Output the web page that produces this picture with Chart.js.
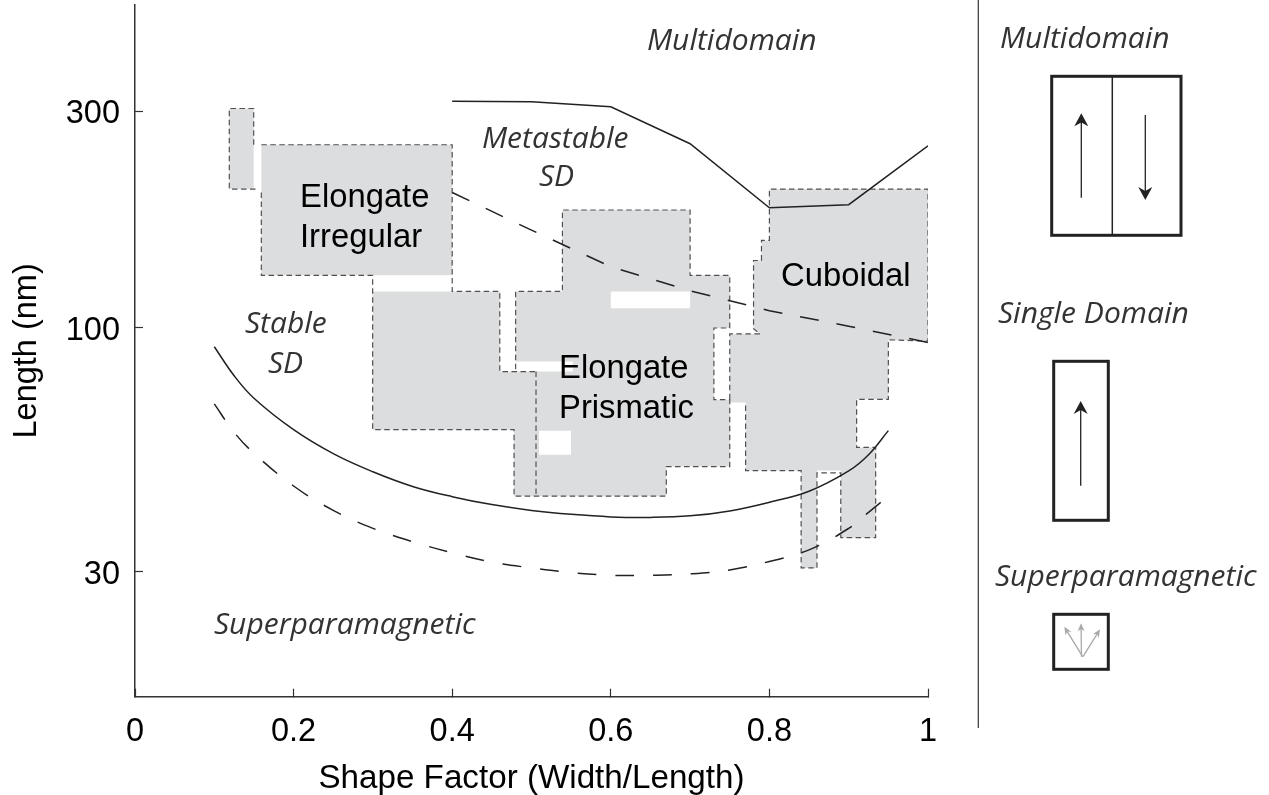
<!DOCTYPE html>
<html><head><meta charset="utf-8">
<style>html,body{margin:0;padding:0;background:#fff}canvas{display:block}</style>
<script src="https://cdn.jsdelivr.net/npm/chart.js@4"></script>
</head><body><canvas id="c" width="1269" height="795"></canvas>
<script>
// Axis ticks. The 100 mark in the reference sits slightly off a true log position.
const xTicks = [0, 0.2, 0.4, 0.6, 0.8, 1];
const yTickValues = [30, 101.8, 300];
const yTickLabels = ['30', '100', '300'];

// Boundary curves (shape factor, length nm)
const boundaryUpperX = [0.4, 0.5, 0.6, 0.7, 0.8, 0.9, 1];
const boundaryUpperY = [315.8, 314.9, 307.1, 255.3, 185.4, 188.2, 252.7];
const metastableX = [0.4, 0.5, 0.6, 0.7, 0.8, 0.9, 1];
const metastableY = [200.1, 165.7, 138.0, 122.4, 110.8, 102.5, 94.5];
const stableX = [0.1, 0.125, 0.15, 0.2, 0.25, 0.3, 0.35, 0.4, 0.45, 0.5, 0.55, 0.6, 0.65, 0.7, 0.75, 0.8, 0.85, 0.9, 0.925, 0.95];
const stableY = [92.5, 80.0, 71.5, 61.1, 54.2, 49.5, 46.0, 43.7, 42.0, 40.8, 40.0, 39.5, 39.4, 39.7, 40.7, 42.5, 44.9, 49.7, 53.9, 60.8];
const superparaX = [0.1, 0.125, 0.15, 0.2, 0.25, 0.3, 0.35, 0.4, 0.45, 0.5, 0.55, 0.6, 0.65, 0.7, 0.75, 0.8, 0.85, 0.9, 0.925, 0.945];
const superparaY = [69.5, 60.3, 54.3, 46.1, 40.8, 37.3, 34.9, 33.0, 31.5, 30.6, 29.9, 29.5, 29.5, 29.7, 30.3, 31.6, 33.5, 37.3, 40.4, 43.1];

// Grey morphology regions
const smallFillX = [0.1189, 0.1497, 0.1497, 0.1189];
const smallFillY = [304.5, 304.5, 203.5, 203.5];
const irregFillX = [0.1593, 0.4, 0.4, 0.1593];
const irregFillY = [254, 254, 132.2, 132.2];
const prismFillX = [0.2997, 0.46, 0.46, 0.48, 0.552, 0.552, 0.48, 0.48, 0.539, 0.539, 0.7, 0.7, 0.75, 0.75, 0.73, 0.73, 0.75, 0.75, 0.67, 0.67, 0.478, 0.478, 0.2997];
const prismFillY = [122, 122, 81.7, 81.7, 81.7, 85.9, 85.9, 122, 122, 183.3, 183.3, 132.2, 132.2, 101.6, 101.6, 71, 71, 50.8, 50.8, 43.8, 43.8, 61.1, 61.1];
const cubicFillX = [0.8, 1, 1, 0.95, 0.95, 0.91, 0.91, 0.934, 0.934, 0.89, 0.89, 0.86, 0.86, 0.84, 0.84, 0.77, 0.77, 0.75, 0.75, 0.7881, 0.78, 0.78, 0.79, 0.79, 0.8];
const cubicFillY = [203.5, 203.5, 95.1, 95.8, 71.1, 71.1, 55.9, 55.9, 35.6, 35.6, 49.8, 49.8, 30.6, 30.6, 49.8, 49.8, 70, 70, 98.6, 98.6, 101.2, 142.4, 142.4, 157.4, 157.4];
// Blank holes inside the prismatic region
const holeAX = [0.6, 0.7, 0.7, 0.6];
const holeAY = [122, 122, 112.1, 112.1];
const holeBX = [0.5095, 0.5498, 0.5498, 0.5095];
const holeBY = [60.8, 60.8, 53.9, 53.9];

// Dashed outlines
const smallLineX = [0.1497, 0.1497, 0.1189, 0.1189, 0.1547];
const smallLineY = [254, 304.5, 304.5, 203.5, 203.5];
const upperLineX = [0.1593, 0.4, 0.4, 0.46, 0.46, 0.5082];
const upperLineY = [254, 254, 122, 122, 81.7, 81.7];
const lowerLineX = [0.1593, 0.1593, 0.2997, 0.2997, 0.478, 0.478, 0.67, 0.67, 0.75, 0.75, 0.73, 0.73, 0.75, 0.75, 0.7, 0.7, 0.539, 0.539, 0.48, 0.48];
const lowerLineY = [200, 132.2, 132.2, 61.1, 61.1, 43.8, 43.8, 50.8, 50.8, 71, 71, 101.6, 101.6, 132.2, 132.2, 183.3, 183.3, 122, 122, 81.7];
const innerLineX = [0.5057, 0.5057];
const innerLineY = [81.7, 43.8];
const cubicLineX = [0.75, 0.75, 0.7881, 0.78, 0.78, 0.79, 0.79, 0.8, 0.8, 1, 1, 0.95, 0.95, 0.91, 0.91, 0.934, 0.934, 0.89, 0.89, 0.86, 0.86, 0.84, 0.84, 0.77, 0.77];
const cubicLineY = [71.1, 98.6, 98.6, 101.2, 142.4, 142.4, 157.4, 157.4, 203.5, 203.5, 95.1, 95.8, 71.1, 71.1, 55.9, 55.9, 35.6, 35.6, 49.2, 49.2, 30.6, 30.6, 49.8, 49.8, 70];

const pts = (xs, ys) => xs.map((x, i) => ({x, y: ys[i]}));
const GREY = '#dcddde', OUT = '#505052', INK = '#222224';
const region = (xs, ys, color, order) => ({data: pts(xs, ys), showLine: true, borderWidth: 0, borderColor: 'transparent', backgroundColor: color, fill: {target: 'shape'}, pointRadius: 0, tension: 0, order});
const outline = (xs, ys) => ({data: pts(xs, ys), showLine: true, borderWidth: 1.2, borderColor: OUT, borderDash: [5.5, 3.5], fill: false, pointRadius: 0, tension: 0, order: 3});
const curve = (xs, ys, dash, smooth) => ({data: pts(xs, ys), showLine: true, borderWidth: 1.5, borderColor: INK, borderDash: dash, fill: false, pointRadius: 0, tension: smooth ? 0.4 : 0, order: 1});

const ITALIC = 'italic 30px "Open Sans"';
const ROMAN = '32.8px "Liberation Sans"';
const labels = [
  ['Multidomain', 647, 50, ITALIC, '#333335'], ['Metastable', 482, 148, ITALIC, '#333335'], ['SD', 539, 186, ITALIC, '#333335'],
  ['Stable', 245, 333, ITALIC, '#333335'], ['SD', 268, 373, ITALIC, '#333335'], ['Superparamagnetic', 214, 634, ITALIC, '#333335'],
  ['Multidomain', 1000, 48, ITALIC, '#333335'], ['Single Domain', 998, 323, ITALIC, '#333335'], ['Superparamagnetic', 995, 586, ITALIC, '#333335'],
  ['Elongate', 300, 207, ROMAN, '#000'], ['Irregular', 300, 247, ROMAN, '#000'],
  ['Elongate', 559, 378, ROMAN, '#000'], ['Prismatic', 559, 418, ROMAN, '#000'], ['Cuboidal', 781, 286, ROMAN, '#000']
];

function arrow(ctx, x0, y0, x1, y1, color, lw, hw, hl) {
  const a = Math.atan2(y1 - y0, x1 - x0), ca = Math.cos(a), sa = Math.sin(a);
  ctx.strokeStyle = color; ctx.fillStyle = color; ctx.lineWidth = lw;
  ctx.beginPath(); ctx.moveTo(x0, y0); ctx.lineTo(x1 - ca * hl * .6, y1 - sa * hl * .6); ctx.stroke();
  ctx.beginPath(); ctx.moveTo(x1, y1);
  ctx.lineTo(x1 - ca * hl - sa * hw / 2, y1 - sa * hl + ca * hw / 2);
  ctx.lineTo(x1 - ca * hl * .7, y1 - sa * hl * .7);
  ctx.lineTo(x1 - ca * hl + sa * hw / 2, y1 - sa * hl - ca * hw / 2);
  ctx.closePath(); ctx.fill();
}
const annotate = {
  id: 'annotate',
  afterDraw(chart) {
    const ctx = chart.ctx;
    ctx.save();
    ctx.textAlign = 'left'; ctx.textBaseline = 'alphabetic';
    labels.forEach(([t, x, y, f, c]) => { ctx.font = f; ctx.fillStyle = c; ctx.fillText(t, x, y); });
    ctx.strokeStyle = '#333335'; ctx.lineWidth = 1.2;
    ctx.beginPath(); ctx.moveTo(978.3, 0); ctx.lineTo(978.3, 728); ctx.stroke();
    ctx.strokeStyle = '#222224'; ctx.lineWidth = 3;
    ctx.strokeRect(1051.7, 76.3, 129.3, 159);
    ctx.strokeRect(1053.7, 361.3, 54.6, 159);
    ctx.strokeRect(1053.7, 614.3, 54.6, 55);
    ctx.lineWidth = 1.5;
    ctx.beginPath(); ctx.moveTo(1112.3, 76.3); ctx.lineTo(1112.3, 235.3); ctx.stroke();
    arrow(ctx, 1081.3, 197.7, 1081.3, 113.3, '#222224', 1.3, 14, 13);
    arrow(ctx, 1145.3, 115, 1145.3, 200, '#222224', 1.3, 14, 13);
    arrow(ctx, 1080.7, 485.7, 1080.7, 401, '#222224', 1.3, 14, 13);
    arrow(ctx, 1082.7, 656.7, 1064.3, 626.7, '#a8a9ab', 1.3, 7, 8);
    arrow(ctx, 1081.5, 656.7, 1081, 623.3, '#a8a9ab', 1.3, 7, 8);
    arrow(ctx, 1083, 656.7, 1100, 629.3, '#a8a9ab', 1.3, 7, 8);
    ctx.restore();
  }
};

new Chart(document.getElementById('c'), {
  type: 'scatter',
  data: {datasets: [
    region(smallFillX, smallFillY, GREY, 6),
    region(irregFillX, irregFillY, GREY, 6),
    region(prismFillX, prismFillY, GREY, 6),
    region(cubicFillX, cubicFillY, GREY, 6),
    region(holeAX, holeAY, '#fff', 5),
    region(holeBX, holeBY, '#fff', 5),
    outline(smallLineX, smallLineY),
    outline(upperLineX, upperLineY),
    outline(lowerLineX, lowerLineY),
    outline(innerLineX, innerLineY),
    outline(cubicLineX, cubicLineY),
    curve(boundaryUpperX, boundaryUpperY, [], false),
    curve(metastableX, metastableY, [19, 18.1], false),
    curve(stableX, stableY, [], true),
    curve(superparaX, superparaY, [19, 18.75], true)
  ]},
  options: {
    responsive: false, animation: false, events: [],
    layout: {padding: {top: 5, right: 341, left: 0, bottom: 0}},
    plugins: {legend: {display: false}, tooltip: {enabled: false}},
    scales: {
      x: {
        type: 'linear', min: 0, max: 1,
        afterBuildTicks: s => { s.ticks = xTicks.map(value => ({value})); },
        afterFit: s => { s.height = 98.3; s.paddingLeft = 0; s.paddingRight = 0; },
        grid: {drawOnChartArea: false, tickLength: -8, tickColor: '#333335', tickWidth: 1.2},
        border: {color: '#333335', width: 1.5},
        ticks: {color: '#000', padding: 24, maxRotation: 0, font: {family: 'Liberation Sans', size: 32.5}, callback: v => String(v)},
        title: {display: true, text: 'Shape Factor (Width/Length)', color: '#000', font: {family: 'Liberation Sans', size: 33.2, lineHeight: 1}, padding: 0}
      },
      y: {
        type: 'logarithmic', min: 16.07, max: 511,
        afterBuildTicks: s => { s.ticks = yTickValues.map(value => ({value})); },
        afterFit: s => { s.width = 135; s.paddingTop = 0; s.paddingBottom = 0; },
        grid: {drawOnChartArea: false, tickLength: -8, tickColor: '#333335', tickWidth: 1.2},
        border: {color: '#333335', width: 1.5},
        ticks: {color: '#000', padding: 23, font: {family: 'Liberation Sans', size: 32.5, lineHeight: '6px'},
          callback: (v, i) => ['', yTickLabels[i]]},
        title: {display: true, text: 'Length (nm)', color: '#000', font: {family: 'Liberation Sans', size: 32.5}, padding: {top: 8, bottom: 0}}
      }
    }
  },
  plugins: [annotate]
});
</script></body></html>
